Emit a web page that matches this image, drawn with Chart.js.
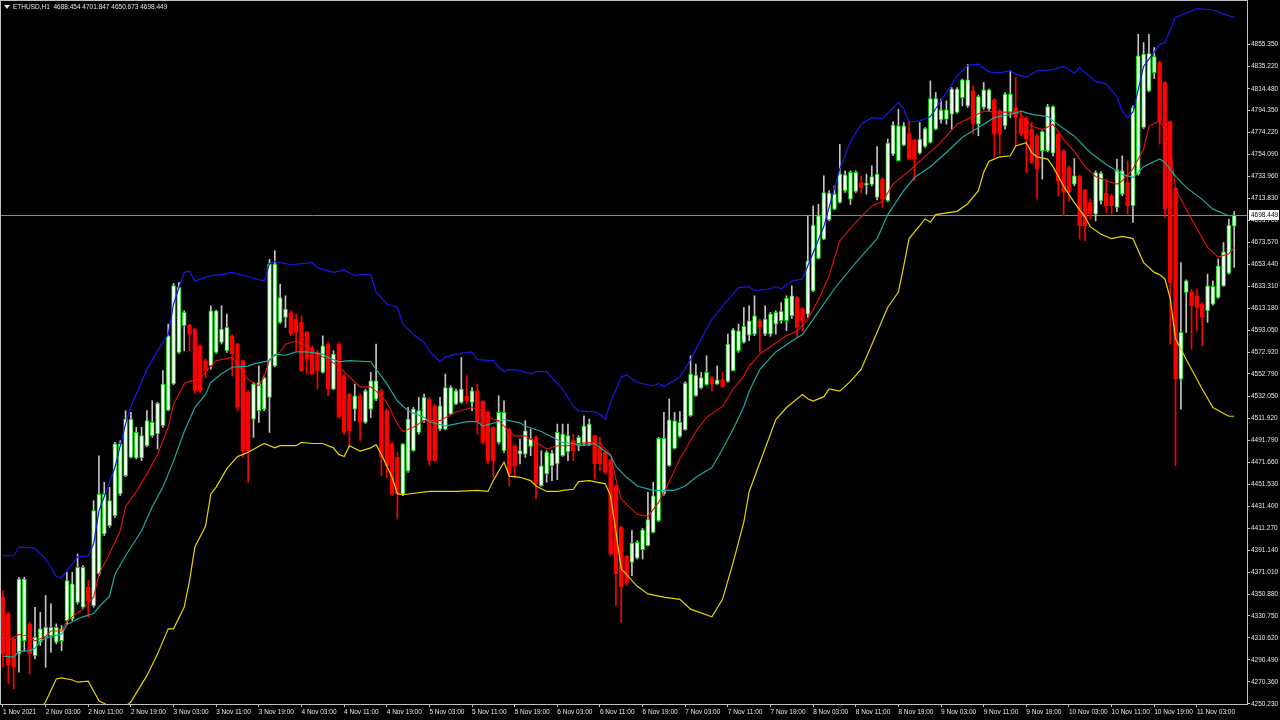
<!DOCTYPE html>
<html>
<head>
<meta charset="utf-8">
<title>ETHUSD,H1</title>
<script src="https://cdn.jsdelivr.net/npm/chart.js@4.4.0/dist/chart.umd.min.js"></script>
<style>
  html, body { margin: 0; padding: 0; background: #000; }
  #chart { display: block; background: #000; }
</style>
</head>
<body>
<canvas id="chart" width="1280" height="720"></canvas>
<script>
const symbolName = 'ETHUSD,H1';

// one label every 8 hourly bars, first bar is 1 Nov 19:00
const timeLabels = [
    '1 Nov 2021', '2 Nov 03:00', '2 Nov 11:00', '2 Nov 19:00', '3 Nov 03:00', '3 Nov 11:00',
    '3 Nov 19:00', '4 Nov 03:00', '4 Nov 11:00', '4 Nov 19:00', '5 Nov 03:00', '5 Nov 11:00',
    '5 Nov 19:00', '6 Nov 03:00', '6 Nov 11:00', '6 Nov 19:00', '7 Nov 03:00', '7 Nov 11:00',
    '7 Nov 19:00', '8 Nov 03:00', '8 Nov 11:00', '8 Nov 19:00', '9 Nov 03:00', '9 Nov 11:00',
    '9 Nov 19:00', '10 Nov 03:00', '10 Nov 11:00', '10 Nov 19:00', '11 Nov 03:00'
];

const priceTicks = [
    4855.350, 4835.220, 4814.480, 4794.350, 4774.220, 4754.090, 4733.960, 4713.830,
    4693.700, 4673.570, 4653.440, 4633.310, 4613.180, 4593.050, 4572.920, 4552.790,
    4532.050, 4511.920, 4491.790, 4471.660, 4451.530, 4431.400, 4411.270, 4391.140,
    4371.010, 4350.880, 4330.750, 4310.620, 4290.490, 4270.360, 4250.230
];

const openPrices = [
    4347.9, 4332.6, 4309.7, 4296.0, 4308.2, 4323.5, 4294.4, 4306.7, 4311.2, 4312.8,
    4306.7, 4308.2, 4326.5, 4328.1, 4343.3, 4338.8, 4357.1, 4340.3, 4369.3, 4406.0,
    4413.7, 4422.8, 4442.7, 4459.5, 4476.3, 4475.7, 4475.7, 4487.0, 4496.2, 4497.7,
    4505.4, 4519.7, 4543.6, 4572.6, 4597.1, 4598.0, 4594.0, 4578.7, 4565.0, 4560.4,
    4572.6, 4581.8, 4574.1, 4587.9, 4580.3, 4565.0, 4536.0, 4511.4, 4519.1, 4520.6,
    4531.3, 4560.3, 4600.1, 4604.6, 4609.2, 4603.1, 4600.1, 4590.9, 4577.1, 4572.5,
    4554.2, 4580.2, 4538.9, 4580.2, 4551.2, 4534.3, 4520.6, 4532.8, 4508.3, 4520.6,
    4529.7, 4537.4, 4519.1, 4488.5, 4476.3, 4442.6, 4464.0, 4482.4, 4499.2, 4509.9,
    4529.7, 4523.6, 4502.2, 4502.2, 4516.0, 4525.2, 4526.7, 4532.8, 4526.7, 4537.4,
    4527.6, 4517.5, 4503.8, 4490.0, 4482.4, 4502.3, 4487.0, 4479.3, 4479.3, 4486.4,
    4494.6, 4450.3, 4461.0, 4468.6, 4470.2, 4477.8, 4481.5, 4491.6, 4487.0, 4488.5,
    4488.5, 4496.2, 4485.5, 4480.9, 4474.1, 4450.3, 4412.1, 4385.5, 4380.0, 4383.7,
    4391.6, 4395.3, 4407.5, 4418.2, 4442.7, 4468.6, 4484.5, 4495.5, 4501.7, 4514.5,
    4532.8, 4539.9, 4542.9, 4549.6, 4543.5, 4547.5, 4546.0, 4555.8, 4574.1, 4581.7,
    4588.5, 4589.4, 4601.6, 4589.4, 4589.4, 4598.6, 4601.6, 4601.6, 4606.2, 4623.0,
    4612.9, 4607.7, 4629.1, 4658.8, 4676.5, 4694.3, 4704.0, 4710.1, 4720.9, 4713.2,
    4720.2, 4728.5, 4726.0, 4726.7, 4714.7, 4731.5, 4711.7, 4754.5, 4748.4, 4762.7,
    4773.7, 4767.6, 4755.4, 4761.5, 4765.2, 4777.4, 4786.0, 4786.6, 4791.2, 4792.7,
    4806.4, 4798.8, 4812.6, 4782.0, 4797.3, 4795.7, 4804.3, 4794.2, 4780.4, 4792.7,
    4797.3, 4787.5, 4787.5, 4777.4, 4771.3, 4757.5, 4757.5, 4755.4, 4772.8, 4757.5,
    4742.2, 4726.9, 4734.6, 4721.7, 4710.1, 4699.4, 4711.6, 4718.7, 4716.2, 4705.5,
    4717.8, 4728.5, 4707.1, 4736.1, 4778.9, 4812.5, 4829.3, 4838.5, 4820.2, 4784.4,
    4723.3, 4548.1, 4627.6, 4628.2, 4624.5, 4616.9, 4610.8, 4616.9, 4623.0, 4633.7,
    4645.3, 4688.454
];

const highPrices = [
    4354.0, 4334.2, 4311.2, 4366.3, 4366.3, 4325.0, 4338.8, 4334.2, 4349.5, 4341.8,
    4323.5, 4321.9, 4370.9, 4370.9, 4387.7, 4377.0, 4363.2, 4436.6, 4477.8, 4453.4,
    4448.8, 4490.1, 4491.6, 4519.1, 4517.6, 4503.8, 4503.8, 4519.1, 4528.3, 4526.8,
    4555.8, 4598.6, 4635.9, 4636.8, 4610.8, 4598.6, 4594.9, 4579.7, 4566.5, 4615.4,
    4611.4, 4615.4, 4607.8, 4588.8, 4580.9, 4565.6, 4537.5, 4545.0, 4560.3, 4551.1,
    4658.1, 4665.8, 4635.2, 4624.5, 4610.8, 4607.7, 4606.2, 4591.8, 4578.7, 4574.7,
    4587.8, 4581.7, 4574.1, 4581.7, 4552.7, 4534.9, 4543.5, 4534.3, 4538.9, 4554.2,
    4580.2, 4538.9, 4520.6, 4490.0, 4480.8, 4489.1, 4522.1, 4522.1, 4531.3, 4534.3,
    4531.3, 4524.6, 4531.3, 4552.7, 4542.0, 4538.9, 4567.9, 4551.2, 4540.4, 4543.5,
    4528.2, 4519.1, 4504.4, 4532.8, 4528.2, 4502.9, 4487.6, 4493.1, 4509.9, 4502.3,
    4496.2, 4482.4, 4482.4, 4482.4, 4506.8, 4506.8, 4506.8, 4497.7, 4496.2, 4514.5,
    4511.4, 4496.8, 4494.6, 4481.5, 4474.8, 4450.9, 4413.0, 4386.1, 4409.0, 4399.9,
    4411.2, 4444.2, 4453.4, 4494.6, 4517.5, 4529.8, 4517.5, 4518.2, 4545.7, 4569.5,
    4561.9, 4554.2, 4569.5, 4550.6, 4560.3, 4554.2, 4589.4, 4594.6, 4598.6, 4613.8,
    4615.4, 4624.5, 4603.2, 4615.4, 4609.3, 4610.8, 4618.4, 4624.5, 4633.7, 4623.9,
    4613.8, 4697.9, 4707.1, 4708.6, 4734.6, 4720.9, 4725.4, 4763.6, 4739.2, 4739.2,
    4739.2, 4734.6, 4736.1, 4743.8, 4761.5, 4733.1, 4768.2, 4784.1, 4795.7, 4783.5,
    4785.0, 4768.2, 4783.5, 4778.9, 4821.7, 4811.0, 4804.9, 4803.4, 4815.6, 4815.6,
    4823.3, 4837.0, 4817.1, 4808.6, 4820.2, 4814.1, 4805.5, 4795.7, 4811.0, 4830.9,
    4824.8, 4794.2, 4789.0, 4783.5, 4772.8, 4775.9, 4800.3, 4798.8, 4774.3, 4759.0,
    4743.7, 4750.5, 4735.2, 4722.3, 4713.2, 4739.2, 4738.2, 4731.5, 4717.8, 4749.9,
    4752.9, 4748.3, 4798.8, 4864.5, 4856.9, 4864.5, 4852.3, 4840.0, 4820.8, 4785.0,
    4723.9, 4655.1, 4639.2, 4630.6, 4630.6, 4618.4, 4644.4, 4638.3, 4658.2, 4673.4,
    4694.8, 4701.847
];

const lowPrices = [
    4283.7, 4268.4, 4263.9, 4279.1, 4299.0, 4277.6, 4291.4, 4303.6, 4283.7, 4297.5,
    4305.1, 4299.0, 4323.5, 4326.5, 4341.8, 4337.2, 4329.6, 4338.8, 4367.8, 4404.5,
    4412.1, 4421.3, 4441.2, 4458.6, 4475.7, 4474.8, 4473.3, 4486.1, 4494.7, 4484.0,
    4503.8, 4519.1, 4543.0, 4571.7, 4574.1, 4574.1, 4535.0, 4536.0, 4549.1, 4557.3,
    4571.7, 4580.3, 4572.6, 4551.2, 4519.1, 4476.3, 4453.4, 4494.6, 4508.3, 4519.1,
    4499.2, 4559.4, 4599.1, 4595.5, 4587.8, 4574.1, 4555.1, 4552.7, 4552.1, 4538.9,
    4553.6, 4532.8, 4538.3, 4512.9, 4497.6, 4485.4, 4509.9, 4491.5, 4507.4, 4512.9,
    4528.2, 4459.4, 4457.9, 4441.1, 4419.7, 4441.1, 4462.5, 4481.8, 4497.6, 4508.3,
    4468.6, 4472.6, 4500.7, 4501.6, 4515.4, 4524.6, 4525.8, 4525.8, 4519.1, 4497.6,
    4488.5, 4470.1, 4457.9, 4488.5, 4480.9, 4450.3, 4457.9, 4470.2, 4476.3, 4477.8,
    4438.1, 4449.7, 4453.4, 4454.9, 4455.8, 4477.2, 4473.2, 4473.2, 4482.4, 4487.6,
    4487.0, 4456.4, 4464.0, 4461.0, 4386.1, 4340.2, 4325.0, 4358.6, 4367.8, 4383.0,
    4383.0, 4394.7, 4406.9, 4417.3, 4441.7, 4468.0, 4483.9, 4494.6, 4501.0, 4513.9,
    4532.2, 4539.0, 4542.6, 4537.4, 4543.2, 4540.2, 4545.1, 4555.5, 4572.6, 4581.1,
    4583.3, 4587.9, 4572.6, 4587.9, 4587.3, 4589.4, 4599.5, 4592.5, 4603.8, 4586.3,
    4592.5, 4604.7, 4628.2, 4658.2, 4675.9, 4693.3, 4703.4, 4709.5, 4719.3, 4708.3,
    4719.3, 4718.7, 4717.8, 4725.4, 4712.6, 4705.6, 4710.8, 4753.0, 4748.1, 4762.1,
    4749.3, 4730.0, 4754.5, 4760.6, 4764.6, 4776.8, 4782.9, 4782.0, 4777.4, 4792.1,
    4798.8, 4797.3, 4772.8, 4771.3, 4795.7, 4794.2, 4751.4, 4754.4, 4777.4, 4788.1,
    4762.1, 4771.3, 4737.6, 4746.2, 4713.2, 4731.5, 4756.6, 4752.9, 4716.2, 4697.9,
    4711.6, 4725.4, 4676.5, 4675.0, 4694.8, 4693.3, 4708.6, 4700.9, 4699.4, 4701.6,
    4716.2, 4699.4, 4691.8, 4735.2, 4778.0, 4811.6, 4823.8, 4763.6, 4696.4, 4580.2,
    4468.6, 4520.6, 4590.9, 4575.6, 4592.4, 4578.7, 4600.1, 4616.0, 4622.1, 4633.1,
    4644.4, 4650.673
];

const closePrices = [
    4296.0, 4285.3, 4283.7, 4364.7, 4364.7, 4296.0, 4311.2, 4318.9, 4320.4, 4320.4,
    4320.4, 4318.9, 4363.2, 4360.2, 4375.4, 4375.4, 4344.9, 4427.4, 4442.7, 4442.7,
    4436.6, 4488.6, 4488.6, 4511.5, 4511.5, 4499.3, 4496.2, 4510.0, 4508.4, 4525.8,
    4543.6, 4587.9, 4633.8, 4632.2, 4609.3, 4589.4, 4537.5, 4537.5, 4555.8, 4610.8,
    4610.8, 4594.0, 4595.5, 4571.1, 4522.2, 4482.4, 4482.4, 4543.5, 4545.0, 4549.6,
    4653.6, 4653.6, 4623.0, 4612.3, 4589.4, 4590.9, 4555.7, 4566.4, 4552.7, 4555.7,
    4578.7, 4538.9, 4571.0, 4513.5, 4499.2, 4500.7, 4532.8, 4508.3, 4537.4, 4546.6,
    4546.6, 4476.3, 4468.6, 4442.6, 4442.6, 4488.5, 4511.4, 4520.6, 4519.1, 4531.3,
    4473.2, 4473.2, 4523.6, 4540.4, 4540.4, 4537.4, 4538.9, 4528.2, 4537.4, 4509.9,
    4490.0, 4473.2, 4473.2, 4517.5, 4517.5, 4461.0, 4468.6, 4482.4, 4500.7, 4493.1,
    4451.8, 4468.6, 4480.9, 4480.3, 4499.2, 4497.7, 4496.2, 4482.4, 4494.6, 4505.3,
    4506.8, 4470.2, 4470.2, 4462.5, 4387.6, 4369.3, 4357.1, 4361.6, 4397.7, 4398.3,
    4409.9, 4419.1, 4441.1, 4493.7, 4493.7, 4510.8, 4509.9, 4508.4, 4544.5, 4552.7,
    4551.8, 4549.6, 4554.2, 4543.5, 4547.5, 4541.4, 4580.2, 4593.4, 4592.4, 4596.4,
    4601.6, 4606.2, 4595.5, 4603.2, 4607.7, 4609.3, 4610.2, 4622.1, 4624.5, 4595.5,
    4601.6, 4656.6, 4689.4, 4697.9, 4719.3, 4718.7, 4717.8, 4736.1, 4735.5, 4737.7,
    4737.7, 4723.9, 4727.9, 4734.0, 4736.1, 4713.2, 4764.6, 4781.1, 4780.5, 4780.5,
    4749.9, 4749.9, 4768.2, 4778.0, 4805.5, 4805.5, 4795.1, 4795.1, 4814.1, 4814.1,
    4822.6, 4822.6, 4782.0, 4807.4, 4813.5, 4813.5, 4772.8, 4772.8, 4809.5, 4809.5,
    4788.1, 4772.8, 4768.2, 4746.8, 4740.7, 4775.2, 4798.2, 4798.2, 4730.0, 4719.3,
    4719.9, 4734.6, 4688.7, 4688.7, 4699.4, 4737.6, 4737.0, 4707.1, 4707.1, 4740.1,
    4739.2, 4707.1, 4797.2, 4844.6, 4846.2, 4847.1, 4844.0, 4785.0, 4704.0, 4636.8,
    4548.1, 4590.9, 4638.3, 4615.4, 4613.8, 4604.7, 4633.7, 4633.1, 4652.0, 4664.9,
    4689.3, 4698.449
];

const upperBand = [
    [0, 4386], [2, 4386], [3, 4394], [6, 4393], [8, 4383], [10, 4367], [11, 4366], [14, 4385],
    [16, 4386], [17, 4397], [18, 4427], [21, 4467], [23, 4507], [24, 4523], [27, 4557], [29, 4574],
    [31, 4589], [32, 4617], [34, 4646], [35, 4647], [36, 4638], [39, 4643], [41, 4644], [43, 4646],
    [46, 4642], [49, 4638], [50, 4654], [51, 4656], [54, 4653], [58, 4655], [59, 4650], [60, 4649],
    [62, 4646], [64, 4648], [66, 4643], [67, 4644], [69, 4644], [70, 4628], [72, 4617], [74, 4614],
    [75, 4599], [77, 4589], [79, 4582], [80, 4574], [82, 4564], [83, 4568], [85, 4571], [88, 4573],
    [89, 4566], [92, 4565], [93, 4559], [94, 4555], [95, 4557], [97, 4556], [99, 4553], [100, 4555],
    [102, 4555], [105, 4539], [107, 4523], [108, 4519], [111, 4518], [112, 4516], [113, 4511], [114, 4527],
    [116, 4550], [117, 4552], [119, 4545], [122, 4542], [123, 4544], [124, 4541], [127, 4550], [129, 4566],
    [131, 4585], [133, 4603], [135, 4615], [138, 4632], [140, 4633], [141, 4629], [144, 4631], [145, 4633],
    [146, 4631], [148, 4638], [150, 4640], [151, 4652], [154, 4688], [157, 4741], [159, 4766], [161, 4782],
    [163, 4788], [165, 4787], [168, 4802], [169, 4796], [170, 4784], [172, 4785], [174, 4789], [177, 4811],
    [179, 4826], [181, 4836], [183, 4837], [185, 4830], [187, 4829], [189, 4831], [190, 4828], [192, 4825],
    [194, 4831], [197, 4832], [199, 4835], [201, 4829], [202, 4834], [205, 4821], [207, 4819], [209, 4807],
    [210, 4794], [211, 4788], [212, 4793], [214, 4835], [217, 4855], [218, 4857], [220, 4880], [224, 4888],
    [227, 4887], [229, 4883], [231, 4880]
];

const middleBand = [
    [0, 4294], [2, 4293], [3, 4298], [5, 4299], [6, 4301], [7, 4308], [9, 4312], [11, 4314],
    [12, 4323], [14, 4328], [15, 4330], [17, 4333], [18, 4339], [20, 4349], [21, 4369], [23, 4386],
    [26, 4409], [28, 4431], [30, 4449], [32, 4473], [34, 4500], [36, 4522], [38, 4534], [39, 4545],
    [41, 4553], [43, 4559], [46, 4560], [47, 4562], [50, 4565], [51, 4571], [53, 4570], [55, 4573],
    [57, 4573], [60, 4571], [61, 4568], [63, 4564], [65, 4565], [69, 4564], [70, 4557], [72, 4544],
    [74, 4528], [76, 4519], [79, 4513], [80, 4509], [83, 4505], [85, 4507], [87, 4509], [89, 4509],
    [90, 4505], [93, 4509], [94, 4511], [97, 4508], [98, 4505], [101, 4500], [103, 4495], [105, 4490],
    [107, 4489], [109, 4487], [111, 4489], [114, 4478], [115, 4468], [117, 4458], [119, 4450], [122, 4446],
    [126, 4446], [128, 4450], [130, 4458], [133, 4467], [135, 4484], [137, 4502], [139, 4523], [140, 4537],
    [142, 4557], [145, 4573], [148, 4583], [150, 4589], [153, 4610], [156, 4631], [160, 4655], [164, 4677],
    [166, 4699], [169, 4721], [171, 4733], [174, 4743], [177, 4756], [180, 4770], [183, 4779], [186, 4788],
    [189, 4791], [191, 4794], [193, 4791], [196, 4789], [197, 4785], [201, 4771], [204, 4756], [207, 4745],
    [210, 4736], [212, 4733], [214, 4743], [217, 4750], [218, 4747], [220, 4734], [222, 4724], [225, 4713],
    [227, 4704], [230, 4698], [231, 4698]
];

const lowerBand = [
    [0, 4196], [4, 4222], [8, 4252], [10, 4273], [11, 4274], [13, 4272], [14, 4270], [16, 4271],
    [17, 4262], [18, 4253], [20, 4248], [23, 4248], [24, 4252], [27, 4276], [29, 4296], [31, 4319],
    [32, 4319], [34, 4339], [35, 4363], [36, 4394], [38, 4413], [39, 4443], [40, 4449], [42, 4466],
    [44, 4477], [46, 4481], [49, 4489], [51, 4485], [52, 4487], [55, 4487], [56, 4490], [58, 4489],
    [60, 4489], [62, 4485], [63, 4479], [64, 4477], [65, 4487], [67, 4482], [69, 4485], [70, 4488],
    [71, 4479], [73, 4458], [74, 4443], [75, 4442], [80, 4445], [85, 4445], [89, 4446], [91, 4445],
    [92, 4455], [94, 4472], [95, 4459], [97, 4458], [99, 4455], [100, 4450], [102, 4445], [104, 4445],
    [105, 4446], [107, 4447], [108, 4454], [110, 4455], [113, 4452], [114, 4441], [115, 4408], [116, 4374],
    [119, 4358], [121, 4351], [124, 4348], [127, 4346], [129, 4337], [133, 4330], [135, 4346], [137, 4380],
    [139, 4417], [140, 4445], [145, 4511], [147, 4522], [150, 4534], [151, 4530], [152, 4528], [154, 4532],
    [155, 4539], [157, 4537], [159, 4546], [161, 4557], [164, 4591], [166, 4614], [168, 4628], [169, 4652],
    [170, 4677], [172, 4689], [173, 4695], [174, 4692], [175, 4699], [179, 4702], [181, 4709], [183, 4721],
    [184, 4738], [185, 4748], [187, 4752], [189, 4753], [190, 4762], [192, 4765], [193, 4756], [194, 4752],
    [196, 4750], [197, 4743], [199, 4725], [201, 4710], [203, 4697], [204, 4688], [206, 4681], [208, 4677],
    [210, 4679], [212, 4677], [214, 4655], [216, 4646], [217, 4644], [218, 4640], [219, 4622], [220, 4585],
    [222, 4566], [225, 4539], [227, 4522], [230, 4514], [231, 4514]
];

const fastAverage = [
    [0, 4312], [1, 4308], [3, 4314], [5, 4312], [6, 4308], [8, 4312], [9, 4317], [11, 4317],
    [12, 4326], [14, 4334], [15, 4337], [17, 4348], [18, 4369], [20, 4388], [22, 4409], [23, 4431],
    [25, 4445], [27, 4461], [29, 4479], [31, 4504], [32, 4525], [34, 4544], [35, 4546], [37, 4548],
    [38, 4555], [40, 4565], [43, 4568], [44, 4562], [46, 4548], [48, 4542], [49, 4550], [50, 4566],
    [52, 4573], [53, 4580], [55, 4583], [57, 4578], [59, 4571], [61, 4566], [63, 4560], [65, 4550],
    [67, 4541], [69, 4541], [70, 4537], [72, 4527], [74, 4507], [75, 4500], [77, 4504], [79, 4510],
    [82, 4510], [85, 4518], [88, 4522], [90, 4519], [92, 4511], [93, 4510], [95, 4500], [96, 4496],
    [98, 4496], [100, 4490], [102, 4484], [104, 4487], [106, 4487], [108, 4489], [110, 4490], [112, 4489],
    [114, 4479], [115, 4456], [116, 4438], [119, 4424], [121, 4422], [123, 4435], [125, 4454], [127, 4475],
    [130, 4500], [132, 4513], [135, 4523], [137, 4539], [139, 4551], [140, 4560], [142, 4571], [144, 4578],
    [147, 4588], [149, 4592], [151, 4603], [153, 4621], [155, 4643], [157, 4675], [160, 4692], [163, 4707],
    [165, 4711], [167, 4727], [170, 4739], [172, 4748], [175, 4761], [177, 4771], [179, 4782], [182, 4789],
    [184, 4794], [187, 4793], [190, 4793], [191, 4791], [193, 4780], [195, 4777], [197, 4782], [199, 4768],
    [201, 4757], [203, 4743], [205, 4734], [207, 4730], [209, 4727], [210, 4730], [212, 4741], [214, 4759],
    [215, 4780], [217, 4785], [218, 4777], [219, 4762], [220, 4722], [223, 4695], [226, 4669], [228, 4660],
    [230, 4663], [231, 4669]
];

const lastIndex = closePrices.length - 1;
const lastPrice = closePrices[lastIndex];

const axisColor = '#c0c0c0';
const textColor = '#e6e6e6';
const bullBorder = '#00e000';
const bullFill = '#ffffff';
const bullWick = '#c4c4c4';
const bearColor = '#ff0000';
const smallFont = { family: '"Liberation Sans", Arial, sans-serif', size: 6.5 };

const isBull = i => closePrices[i] >= openPrices[i];

const wickData = openPrices.map((o, i) => ({ x: i, y: [lowPrices[i], highPrices[i]] }));
const bodyData = openPrices.map((o, i) => ({ x: i, y: [o, closePrices[i]] }));
const toPoints = list => list.map(p => ({ x: p[0], y: p[1] }));

const lineSet = function(points, color, width){
    return {
        type: 'line',
        data: toPoints(points),
        borderColor: color,
        borderWidth: width,
        pointRadius: 0,
        tension: 0,
        fill: false,
        order: 0
    };
};

// chart.js reserves half a label of room at the ends of each axis; MT4 does not
const noEndPadding = function(scale){
    scale.paddingTop = 0;
    scale.paddingBottom = 0;
    scale.paddingLeft = 0;
    scale.paddingRight = 0;
};

const overlay = {
    id: 'overlay',
    beforeDatasetsDraw(chart){
        const {ctx, chartArea, scales} = chart;
        const py = Math.round(scales.y.getPixelForValue(lastPrice)) + 0.5;
        ctx.save();
        ctx.strokeStyle = '#7d8a97';
        ctx.lineWidth = 1;
        ctx.beginPath();
        ctx.moveTo(chartArea.left, py);
        ctx.lineTo(chartArea.right, py);
        ctx.stroke();
        ctx.restore();
    },
    afterDraw(chart){
        const {ctx, chartArea, scales} = chart;
        ctx.save();

        ctx.strokeStyle = axisColor;
        ctx.lineWidth = 1;
        ctx.strokeRect(chartArea.left - 0.5, chartArea.top - 0.5,
            chartArea.right - chartArea.left + 1, chartArea.bottom - chartArea.top + 1);

        // header: symbol and OHLC of the last bar
        ctx.fillStyle = textColor;
        ctx.beginPath();
        ctx.moveTo(4, 5);
        ctx.lineTo(10, 5);
        ctx.lineTo(7, 9);
        ctx.closePath();
        ctx.fill();
        ctx.font = '6.5px "Liberation Sans", Arial, sans-serif';
        ctx.textBaseline = 'middle';
        ctx.textAlign = 'left';
        const header = symbolName + '  ' + [openPrices[lastIndex], highPrices[lastIndex],
            lowPrices[lastIndex], closePrices[lastIndex]].map(v => v.toFixed(3)).join(' ');
        ctx.fillText(header, 13, 7);

        // last price tag on the axis
        const py = Math.round(scales.y.getPixelForValue(lastPrice));
        ctx.fillStyle = '#ffffff';
        ctx.fillRect(chartArea.right + 2, py - 5, 30, 10);
        ctx.fillStyle = '#000000';
        ctx.fillText(lastPrice.toFixed(3), chartArea.right + 4, py + 0.5);
        ctx.restore();
    }
};

new Chart(document.getElementById('chart'), {
    type: 'bar',
    data: {
        datasets: [
            lineSet(upperBand, '#1818e8', 1.2),
            lineSet(lowerBand, '#e6d400', 1.2),
            lineSet(middleBand, '#1fa7a0', 1.2),
            lineSet(fastAverage, '#e81010', 1.1),
            {
                data: bodyData,
                barThickness: 4,
                minBarLength: 1,
                grouped: false,
                borderSkipped: false,
                borderWidth: 1,
                backgroundColor: c => isBull(c.dataIndex) ? bullFill : bearColor,
                borderColor: c => isBull(c.dataIndex) ? bullBorder : bearColor,
                order: 1
            },
            {
                data: wickData,
                barThickness: 1,
                grouped: false,
                borderWidth: 0,
                backgroundColor: c => isBull(c.dataIndex) ? bullWick : bearColor,
                order: 2
            }
        ]
    },
    options: {
        responsive: false,
        animation: false,
        events: [],
        layout: { padding: { left: 1, top: 1, right: 0, bottom: 0 } },
        plugins: { legend: { display: false }, tooltip: { enabled: false } },
        scales: {
            x: {
                type: 'linear',
                min: -0.375,
                max: 233.4,
                offset: false,
                afterFit(scale){ scale.height = 16; noEndPadding(scale); },
                afterBuildTicks(scale){ scale.ticks = timeLabels.map((t, k) => ({ value: k * 8 })); },
                grid: { offset: false, drawOnChartArea: false, drawTicks: true, tickLength: 3, color: axisColor },
                border: { display: true, color: axisColor },
                ticks: {
                    autoSkip: false,
                    maxRotation: 0,
                    align: 'start',
                    padding: 1,
                    color: textColor,
                    font: smallFont,
                    callback: (v, i) => timeLabels[i]
                }
            },
            y: {
                position: 'right',
                min: 4250,
                max: 4895,
                afterFit(scale){ scale.width = 33; noEndPadding(scale); },
                afterBuildTicks(scale){ scale.ticks = priceTicks.map(v => ({ value: v })); },
                grid: { drawOnChartArea: false, drawTicks: true, tickLength: 3, color: axisColor },
                border: { display: true, color: axisColor },
                ticks: {
                    autoSkip: false,
                    padding: 1,
                    color: textColor,
                    font: smallFont,
                    callback: v => v.toFixed(3)
                }
            }
        }
    },
    plugins: [overlay]
});
</script>
</body>
</html>
